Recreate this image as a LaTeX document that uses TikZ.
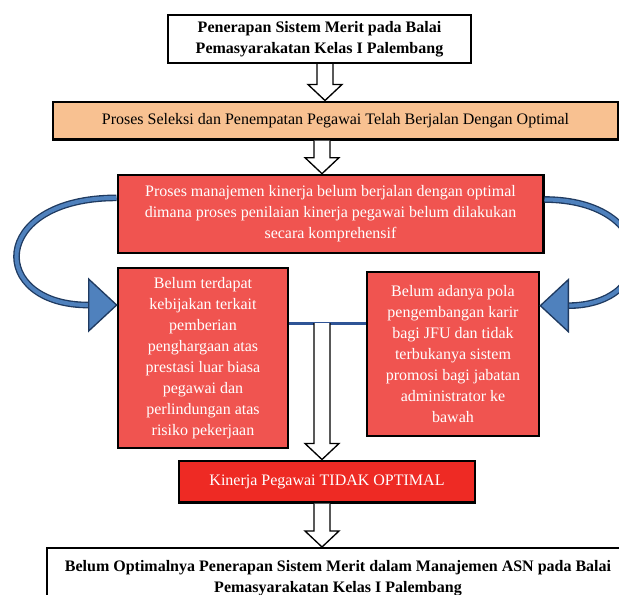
\documentclass[tikz,border=0pt]{standalone}
\usepackage{fontspec}
\setmainfont{Liberation Serif}
\usetikzlibrary{positioning, calc}

\definecolor{boxred}{HTML}{F05450}
\definecolor{boxorange}{HTML}{F8C191}
\definecolor{strongred}{HTML}{EE2A24}
\definecolor{bandblue}{HTML}{4F81BD}
\definecolor{bandnavy}{HTML}{1F3A60}
\definecolor{linkblue}{HTML}{2F5496}

\newcommand{\hollowarrow}[2]{%
  \draw[HollowArrow] let \p1=(#1), \p2=(#2) in
    (\x1-6pt,\y1) -- (\x1-6pt,\y2+12pt) -- (\x1-12.75pt,\y2+12pt) -- (\x1,\y2)
    -- (\x1+12.75pt,\y2+12pt) -- (\x1+6pt,\y2+12pt) -- (\x1+6pt,\y1);}

\begin{document}
\begin{tikzpicture}[x=0.75pt, y=-0.75pt]
		\tikzstyle{Node} = [rectangle, draw=black, line width=2pt, text centered, align=center, inner sep=2pt, font=\fontsize{12}{15.75}\selectfont]
		\tikzstyle{Title} = [Node, fill=white, line width=1.5pt, font=\fontsize{12}{15.75}\selectfont\bfseries]
		\tikzstyle{Step} = [Node, fill=boxorange]
		\tikzstyle{Issue} = [Node, fill=boxred, text=white]
		\tikzstyle{Result} = [Node, fill=strongred, text=white]
		\tikzstyle{HollowArrow} = [draw=black, line width=1pt, fill=white, line join=miter]
		\tikzstyle{Band} = [draw=bandnavy, line width=1pt, double=bandblue, double distance=3pt]
		\tikzstyle{BandHead} = [draw=bandnavy, line width=1pt, fill=bandblue, line join=miter]
		\tikzstyle{link} = [linkblue, line width=2.25pt]
		
		\useasboundingbox (0,0) rectangle (619,594);
		\clip (0,0) rectangle (619,594);
		
		\coordinate (axis) at (322,0);
		\coordinate (mid) at (322,323);
		
		\node (top) [Title, minimum width=227pt, minimum height=36pt] at (319.5,39) {Penerapan Sistem Merit pada Balai\\Pemasyarakatan Kelas I Palembang};
		\node (sel) [Step, minimum width=424pt, minimum height=28pt] at (335.5,120.5) {Proses Seleksi dan Penempatan Pegawai Telah Berjalan Dengan Optimal};
		\node (kin1) [Issue, minimum width=319pt, minimum height=58.5pt] at (330.5,214) {Proses manajemen kinerja belum berjalan dengan optimal\\dimana proses penilaian kinerja pegawai belum dilakukan\\secara komprehensif};
		\node (lft) [Issue, minimum width=127.5pt, minimum height=135pt] at (203,358) {Belum terdapat\\kebijakan terkait\\pemberian\\penghargaan atas\\prestasi luar biasa\\pegawai dan\\perlindungan atas\\risiko pekerjaan};
		\node (rgt) [Issue, minimum width=129pt, minimum height=123pt] at (453,354) {Belum adanya pola\\pengembangan karir\\bagi JFU dan tidak\\terbukanya sistem\\promosi bagi jabatan\\administrator ke\\bawah};
		\node (kin) [Result, minimum width=222pt, minimum height=31pt] at (327,481.5) {Kinerja Pegawai TIDAK OPTIMAL};
		\node (res) [Title, minimum width=436.5pt, minimum height=45pt] at (338,578) {Belum Optimalnya Penerapan Sistem Merit dalam Manajemen ASN pada Balai\\Pemasyarakatan Kelas I Palembang};
		
		\hollowarrow{top.south -| 325,0}{sel.north -| 325,0}
		\hollowarrow{sel.south -| axis}{kin1.north -| axis}
		\draw [link] (lft.east |- mid) -- (rgt.west |- mid);
		\hollowarrow{mid}{kin.north -| axis}
		\hollowarrow{kin.south -| axis}{res.north -| axis}
		
		\coordinate (ls) at ($(kin1.north west)!0.3!(kin1.south west)$);
		\coordinate (lt) at ($(lft.north west)!0.21!(lft.south west)$);
		\coordinate (rs) at ($(kin1.north east)!0.32!(kin1.south east)$);
		\coordinate (rt) at ($(rgt.north east)!0.21!(rgt.south east)$);
		
		\draw [Band] (ls) .. controls (-12,198) and (-12,306) .. ($(lt)+(-27,0)$);
		\draw [BandHead] (lt) -- ++(-28,-26) -- ++(0,52) -- cycle;
		\draw [Band] (rs) .. controls (660,200) and (660,306) .. ($(rt)+(27,0)$);
		\draw [BandHead] (rt) -- ++(28,-26) -- ++(0,52) -- cycle;
\end{tikzpicture}
\end{document}
